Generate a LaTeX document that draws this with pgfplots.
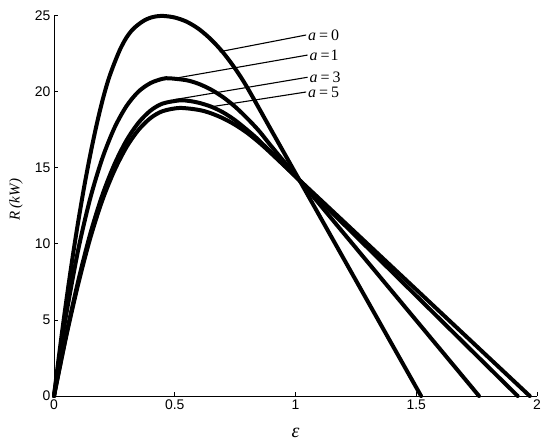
\documentclass[border=0pt]{standalone}
\usepackage{pgfplots}
\pgfplotsset{compat=1.18}
\usepackage{fontspec}
\setmainfont{Liberation Serif}
\newfontfamily\ticksans{Liberation Sans}
\tikzset{lab/.style={anchor=west, inner sep=1.5bp, font=\fontsize{16}{16}\selectfont}}

\begin{document}
\begin{tikzpicture}
\path[use as bounding box] (-54bp,-50bp) rectangle (496bp,396bp);
\begin{axis}[
  at={(0,0)}, anchor=south west,
  scale only axis, width=483bp, height=380bp,
  xmin=0, xmax=2, ymin=0, ymax=25,
  axis x line*=bottom, axis y line*=left,
  axis line style={line width=1bp, -},
  xtick={0,0.5,1,1.5,2}, ytick={0,5,10,15,20,25},
  xticklabels={0,0.5,1,1.5,2},
  tick align=inside, major tick length=4bp,
  tick style={line width=1bp, black},
  /pgf/number format/assume math mode=true,
  tick label style={font=\ticksans\fontsize{14}{14}\selectfont},
  xlabel={\textit{ε}},
  xlabel style={at={(axis description cs:0.5,0)}, anchor=center, yshift=-37bp, font=\fontsize{20}{20}\selectfont},
  ylabel={\textit{R} (\textit{kW})},
  ylabel style={at={(axis description cs:-0.0787,0.516)}, anchor=center, font=\itshape\fontsize{15}{15}\selectfont},
  clip=false,
  cycle list={{black, no markers}},
  curve/.style={black, no markers, line width=4bp, smooth, line join=round, line cap=round},
]
% a = 0
\addplot[curve] coordinates {(0,0) (0.01,1.30) (0.02,2.57) (0.03,3.80) (0.04,5.00) (0.06,7.29) (0.08,9.44) (0.10,11.45) (0.125,13.77) (0.15,15.86) (0.175,17.74) (0.20,19.40) (0.225,20.80) (0.25,21.90) (0.275,22.85) (0.30,23.58) (0.325,24.10) (0.35,24.45) (0.375,24.72) (0.40,24.89) (0.425,24.98) (0.455,25.0) (0.50,24.90) (0.55,24.62) (0.60,24.14) (0.65,23.46) (0.70,22.60) (0.75,21.54) (0.80,20.30) (0.90,17.48) (1.0,14.66) (1.1,11.84) (1.2,9.02) (1.3,6.20) (1.4,3.38) (1.52,0)};
% a = 1
\addplot[curve] coordinates {(0,0) (0.025,2.79) (0.05,5.31) (0.10,9.60) (0.15,13.00) (0.20,15.63) (0.25,17.63) (0.30,19.07) (0.35,20.03) (0.40,20.59) (0.45,20.87) (0.48,20.9) (0.55,20.77) (0.60,20.53) (0.65,20.16) (0.70,19.66) (0.75,19.03) (0.80,18.27) (0.85,17.42) (0.90,16.43) (1.0,14.52) (1.1,12.61) (1.2,10.70) (1.3,8.79) (1.4,6.88) (1.5,4.97) (1.6,3.06) (1.76,0)};
% a = 3
\addplot[curve] coordinates {(0,0) (0.05,3.98) (0.10,7.55) (0.15,10.66) (0.20,13.21) (0.25,15.23) (0.30,16.81) (0.35,17.98) (0.40,18.78) (0.45,19.24) (0.52,19.45) (0.56,19.41) (0.60,19.29) (0.65,19.04) (0.70,18.66) (0.75,18.14) (0.80,17.50) (0.842,16.92) (0.90,16.01) (1.0,14.44) (1.1,12.87) (1.2,11.30) (1.3,9.73) (1.4,8.16) (1.5,6.59) (1.6,5.02) (1.7,3.45) (1.8,1.88) (1.92,0)};
% a = 5
\addplot[curve] coordinates {(0,0) (0.05,3.88) (0.10,7.35) (0.15,10.38) (0.20,12.87) (0.25,14.83) (0.30,16.37) (0.35,17.51) (0.40,18.29) (0.45,18.74) (0.52,18.95) (0.60,18.82) (0.65,18.60) (0.70,18.27) (0.75,17.84) (0.80,17.31) (0.85,16.67) (0.90,15.95) (1.0,14.45) (1.1,12.96) (1.2,11.47) (1.3,9.98) (1.4,8.49) (1.5,7.00) (1.6,5.51) (1.7,4.02) (1.8,2.53) (1.97,0)};

\draw[line width=1.1bp] (axis cs:0.686,22.65) -- (axis cs:1.044,23.75) node[lab] {\textit{a}\hspace{3bp}=\hspace{3bp}0};
\draw[line width=1.1bp] (axis cs:0.50,20.9) -- (axis cs:1.05,22.43) node[lab] {\textit{a}\hspace{3bp}=\hspace{1bp}1};
\draw[line width=1.1bp] (axis cs:0.50,19.5) -- (axis cs:1.05,20.97) node[lab] {\textit{a}\hspace{3bp}=\hspace{3bp}3};
\draw[line width=1.1bp] (axis cs:0.64,19.0) -- (axis cs:1.044,20.0) node[lab] {\textit{a}\hspace{3bp}=\hspace{3bp}5};
\end{axis}
\end{tikzpicture}
\end{document}
